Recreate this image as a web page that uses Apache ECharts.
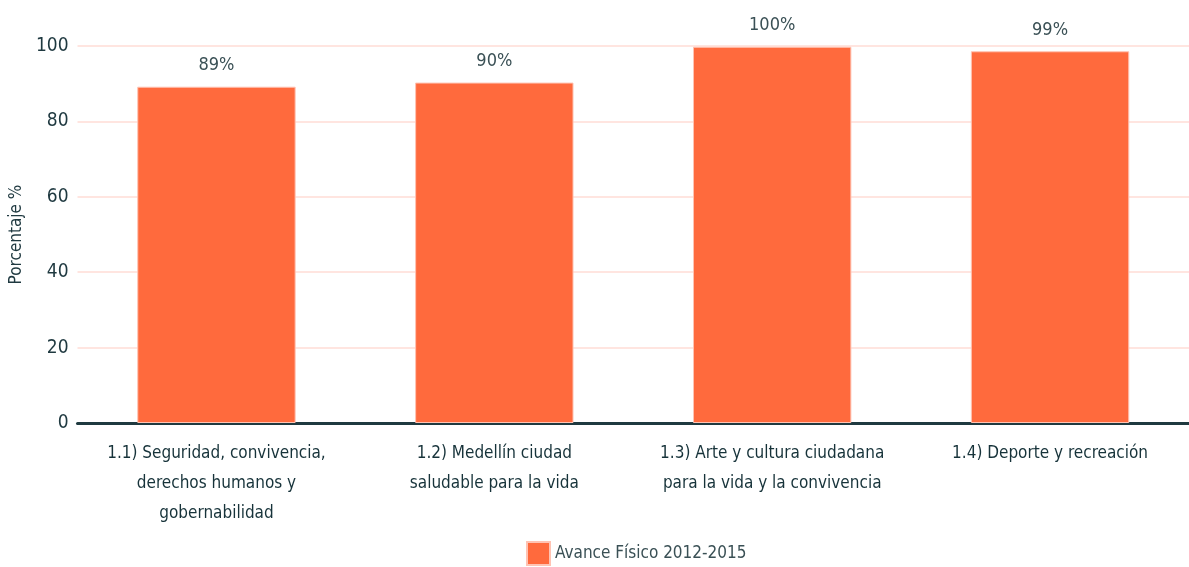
<!DOCTYPE html>
<html><head><meta charset="utf-8">
<script src="https://cdn.jsdelivr.net/npm/echarts@6/dist/echarts.min.js"></script>
<style>html,body{margin:0;padding:0;background:#fff;overflow:hidden}#c{width:1189px;height:567px}</style>
</head><body><div id="c"></div>
<script>
const categories = [
  "1.1) Seguridad, convivencia,\nderechos humanos y\ngobernabilidad",
  "1.2) Medellín ciudad\nsaludable para la vida",
  "1.3) Arte y cultura ciudadana\npara la vida y la convivencia",
  "1.4) Deporte y recreación"
];
const avanceValues = [89.2, 90.3, 99.8, 98.6];
const valueLabels = ["89%", "90%", "100%", "99%"];
const seriesName = "Avance Físico 2012-2015";
const FONT = '"Liberation Sans Narrow", "DejaVu Sans Condensed", "Roboto", sans-serif';
const TXT = '#1f3940';
const chart = echarts.init(document.getElementById('c'));
chart.setOption({
  animation: false,
  textStyle: { fontFamily: FONT },
  grid: { left: 71, width: 1124, top: 46, bottom: 144, containLabel: false },
  legend: {
    bottom: -4, left: 521, itemWidth: 23, itemHeight: 23, itemGap: 8,
    icon: 'rect',
    textStyle: { fontFamily: FONT, fontSize: 17, color: '#3a5055', padding: [0, 0, 0, 0] },
    data: [seriesName]
  },
  xAxis: {
    type: 'category', data: categories,
    axisLine: { lineStyle: { color: '#1f3a40', width: 3 } },
    axisTick: { show: false },
    axisLabel: { fontFamily: FONT, fontSize: 17, color: '#17333a', lineHeight: 30, margin: 16, interval: 0 }
  },
  yAxis: {
    type: 'value', min: 0, max: 100, interval: 20,
    name: 'Porcentaje %', nameLocation: 'middle', nameGap: 35,
    nameTextStyle: { fontFamily: FONT, fontSize: 17, color: TXT },
    axisLine: { show: false }, axisTick: { show: false },
    axisLabel: { fontFamily: FONT, fontSize: 19, color: TXT, margin: 9 },
    splitLine: { lineStyle: { color: '#ffdcd6', width: 1.5 } }
  },
  series: [{
    name: seriesName, type: 'bar', data: avanceValues, barWidth: '57%',
    itemStyle: { color: '#ff6a3d', borderColor: '#ffc3b3', borderWidth: 1 },
    label: {
      show: true, position: 'top', distance: 12,
      formatter: p => valueLabels[p.dataIndex],
      fontFamily: FONT, fontSize: 18, color: '#3a5055'
    }
  }]
});
</script></body></html>
